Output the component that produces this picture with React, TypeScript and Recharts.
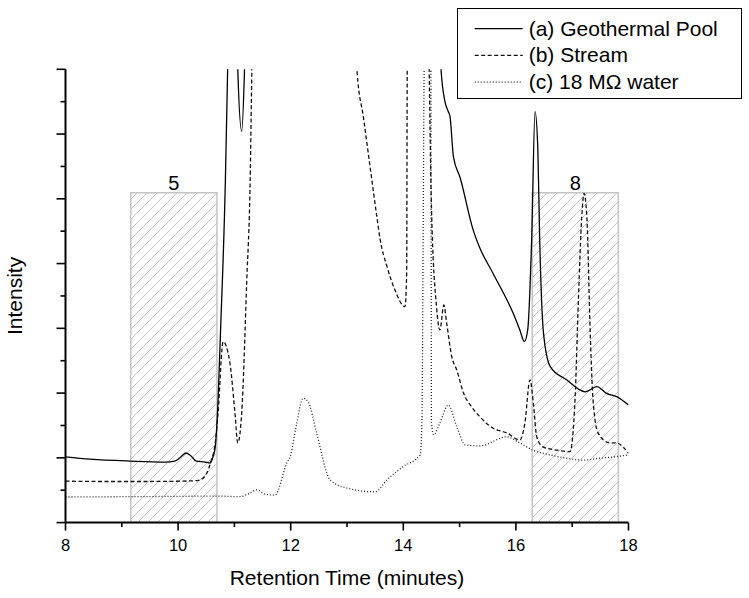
import React from 'react';
import { LineChart, Line, XAxis, YAxis, ReferenceArea, Legend } from 'recharts';

// ---------- data ----------
const SERIES_NAMES = ['(a) Geothermal Pool', '(b) Stream', '(c) 18 MΩ water'];

// (a) Geothermal Pool: retention time (min) and intensity (arb.). Values of 20 = off-scale.
const POOL_T = [8.0, 8.44, 9.15, 9.77, 9.94, 10.03, 10.14, 10.23, 10.32, 10.48, 10.57, 10.62, 10.66, 10.71, 10.75, 10.84, 10.88, 10.95, 11.01, 11.06, 11.13, 11.18, 11.25, 14.55, 14.67, 14.74, 14.8, 14.83, 14.89, 15.01, 15.24, 15.36, 15.59, 15.95, 16.07, 16.15, 16.21, 16.28, 16.34, 16.39, 16.42, 16.49, 16.61, 16.9, 17.23, 17.44, 17.61, 17.79, 18.0];
const POOL_I = [2.03, 1.96, 1.9, 1.87, 1.9, 2.0, 2.15, 2.06, 1.9, 1.87, 1.84, 2.03, 2.34, 3.79, 5.73, 10.58, 14.0, 20, 20, 14.0, 12.08, 14.0, 20, 20, 14.0, 13.0, 12.69, 12.54, 11.3, 10.65, 9.04, 8.48, 7.71, 6.47, 5.95, 5.59, 5.95, 8.73, 12.69, 11.51, 8.94, 5.86, 4.82, 4.41, 4.04, 4.2, 3.99, 3.89, 3.63];

// (b) Stream
const STREAM_T = [8.0, 8.61, 9.5, 10.26, 10.39, 10.51, 10.58, 10.66, 10.71, 10.8, 10.92, 11.01, 11.06, 11.13, 11.22, 11.28, 11.31, 11.4, 13.1, 13.18, 13.29, 13.41, 13.53, 13.59, 13.71, 13.85, 14.03, 14.06, 14.07, 14.12, 14.42, 14.46, 14.5, 14.59, 14.65, 14.72, 14.77, 14.86, 14.95, 15.07, 15.21, 15.36, 15.59, 15.84, 16.07, 16.16, 16.25, 16.31, 16.37, 16.48, 16.72, 16.96, 17.05, 17.11, 17.17, 17.21, 17.26, 17.32, 17.37, 17.46, 17.67, 17.79, 17.9, 18.0];
const STREAM_I = [1.28, 1.27, 1.27, 1.29, 1.32, 1.53, 1.87, 2.46, 3.39, 5.59, 4.93, 3.39, 2.46, 3.39, 7.49, 10.58, 14.0, 20, 20, 13.91, 12.54, 10.99, 9.45, 8.73, 7.91, 7.19, 6.67, 7.71, 14.0, 20, 20, 14.0, 9.76, 6.67, 5.95, 6.72, 6.17, 5.13, 4.71, 4.0, 3.58, 3.27, 2.92, 2.77, 2.55, 3.08, 4.41, 3.69, 2.65, 2.34, 2.24, 2.19, 3.79, 6.88, 9.45, 10.17, 9.45, 5.86, 3.79, 2.77, 2.46, 2.46, 2.34, 2.14];

// (c) 18 MΩ water
const WATER_T = [8.0, 9.0, 10.0, 10.69, 11.1, 11.24, 11.4, 11.54, 11.72, 11.93, 11.99, 12.1, 12.22, 12.31, 12.46, 12.7, 12.99, 13.5, 13.71, 14.0, 14.3, 14.33, 14.37, 14.42, 14.49, 14.5, 14.54, 14.65, 14.8, 14.95, 15.1, 15.36, 15.84, 16.07, 16.3, 16.61, 16.9, 17.2, 17.49, 17.79, 18.0];
const WATER_I = [0.79, 0.8, 0.81, 0.82, 0.8, 0.88, 1.01, 0.88, 0.85, 1.84, 2.04, 3.0, 3.84, 3.73, 2.77, 1.32, 1.07, 0.95, 1.32, 1.73, 2.09, 3.08, 14.0, 20, 14.0, 3.08, 2.71, 3.08, 3.63, 2.96, 2.4, 2.37, 2.65, 2.46, 2.24, 2.09, 1.99, 1.93, 1.99, 2.04, 2.09];

// shaded regions
const REGION_LABELS = ['5', '8'];
const REGION_START = [9.16, 16.29];
const REGION_END = [10.69, 17.82];
const REGION_TOP = [10.19, 10.19];

// axis ticks
const X_TICKS = [8, 9, 10, 11, 12, 13, 14, 15, 16, 17, 18];
const Y_TICKS = [0, 1, 2, 3, 4, 5, 6, 7, 8, 9, 10, 11, 12, 13, 14];

// ---------- helpers ----------
const zip = (t: number[], v: number[]) => t.map((x, i) => ({ t: x, v: v[i] }));
const poolData = zip(POOL_T, POOL_I);
const streamData = zip(STREAM_T, STREAM_I);
const waterData = zip(WATER_T, WATER_I);

const FONT = "'Liberation Sans', Arial, Helvetica, sans-serif";
const DASHES = ['', '4 2.5', '1 2'];
const STROKES = ['#000', '#111', '#222'];

const XTick = (props: any) => {
  const { x, y, payload } = props;
  const major = payload.value % 2 === 0;
  return (
    <g>
      <line x1={x} x2={x} y1={y} y2={y + (major ? 8 : 4.5)} stroke="#000" strokeWidth={1.6} />
      {major && (
        <text x={x} y={y + 28.5} textAnchor="middle" fontSize={16.5} fontFamily={FONT} fill="#000">
          {payload.value}
        </text>
      )}
    </g>
  );
};

const YTick = (props: any) => {
  const { x, y, payload } = props;
  const major = payload.value % 2 === 0;
  return <line x1={x - (major ? 9 : 5)} x2={x} y1={y} y2={y} stroke="#000" strokeWidth={1.6} />;
};

const YTitle = (props: any) => {
  const vb = props.viewBox || {};
  const cx = 22.5;
  const cy = vb.height ? vb.y + vb.height / 2 : 296;
  return (
    <text x={cx} y={cy} transform={`rotate(-90, ${cx}, ${cy})`} textAnchor="middle" fontSize={21} fontFamily={FONT} fill="#000">
      Intensity
    </text>
  );
};

const LegendBox = () => (
  <div style={{ width: 285, height: 91, border: '1.3px solid #000', boxSizing: 'border-box', background: '#fff' }}>
    <svg width={283} height={89} style={{ display: 'block' }}>
      {SERIES_NAMES.map((name, i) => (
        <g key={name}>
          <line x1={16.7} x2={64.7} y1={19.7 + i * 26.7} y2={19.7 + i * 26.7} stroke={STROKES[i]} strokeWidth={1.2} strokeDasharray={DASHES[i] || undefined} />
          <text x={70.7} y={26.7 + i * 26.7} fontSize={21} fontFamily={FONT} fill="#000">
            {name}
          </text>
        </g>
      ))}
    </svg>
  </div>
);

export default function App() {
  const datasets = [poolData, streamData, waterData];
  return (
    <div style={{ position: 'absolute', left: 0, top: 0, background: '#fff' }}>
      <LineChart width={749} height={598} margin={{ top: 69.3, right: 120.5, bottom: 15, left: 5 }}>
        <defs>
          <pattern id="hatch" patternUnits="userSpaceOnUse" width={10} height={10}>
            <rect width={10} height={10} fill="#fff" />
            <path d="M-1,1 l2,-2 M0,10 l10,-10 M9,11 l2,-2" stroke="#c2c2c2" strokeWidth={0.9} />
          </pattern>
        </defs>
        <XAxis
          dataKey="t"
          type="number"
          domain={[8, 18]}
          ticks={X_TICKS}
          interval={0}
          allowDataOverflow
          height={60.4}
          tickSize={0}
          tickMargin={0}
          tickLine={false}
          tick={<XTick />}
          axisLine={{ stroke: '#000', strokeWidth: 2 }}
          label={{ value: 'Retention Time (minutes)', position: 'insideBottom', offset: -2, fontSize: 21, fontFamily: FONT, fill: '#000' }}
        />
        <YAxis
          type="number"
          domain={[0, 14]}
          ticks={Y_TICKS}
          interval={0}
          allowDataOverflow
          width={60.5}
          tickSize={0}
          tickMargin={0}
          tickLine={false}
          tick={<YTick />}
          axisLine={{ stroke: '#000', strokeWidth: 2 }}
          label={{ content: <YTitle /> }}
        />
        {REGION_LABELS.map((lab, i) => (
          <ReferenceArea
            key={lab}
            x1={REGION_START[i]}
            x2={REGION_END[i]}
            y1={0}
            y2={REGION_TOP[i]}
            fill="url(#hatch)"
            fillOpacity={1}
            stroke="#c4c4c4"
            strokeWidth={1.5}
            label={{ value: lab, position: 'top', offset: 3, fontSize: 20, fontFamily: FONT, fill: '#000' }}
          />
        ))}
        {datasets.map((d, i) => (
          <Line
            key={SERIES_NAMES[i]}
            data={d}
            dataKey="v"
            name={SERIES_NAMES[i]}
            type="monotone"
            stroke={STROKES[i]}
            strokeWidth={1.3}
            strokeDasharray={DASHES[i] || undefined}
            dot={false}
            activeDot={false}
            isAnimationActive={false}
          />
        ))}
        <Legend
          layout="vertical"
          align="center"
          verticalAlign="middle"
          content={<LegendBox />}
          wrapperStyle={{ left: 457, top: 8, width: 285, height: 91 }}
        />
      </LineChart>
    </div>
  );
}
